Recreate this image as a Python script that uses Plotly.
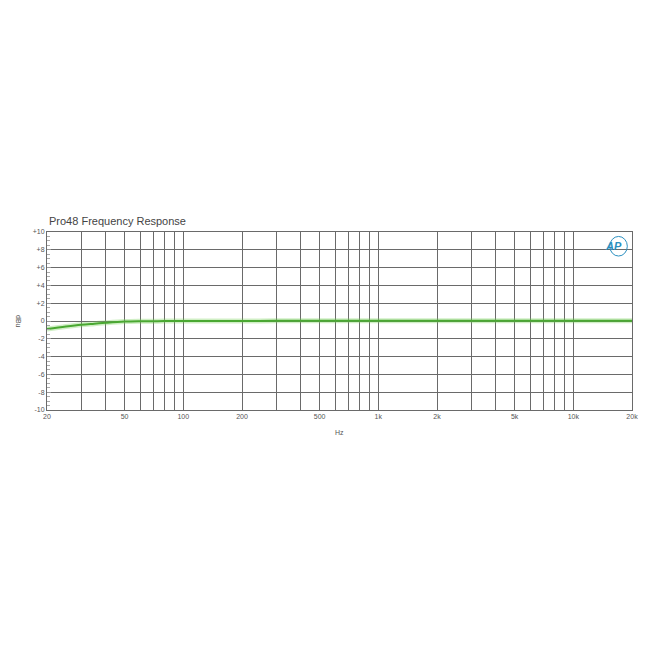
import plotly.graph_objects as go
import math

# Data
freq_hz = [20, 25, 30, 35, 40, 50, 60, 70, 80, 100, 150, 200, 300, 400, 500, 700, 1000, 2000, 5000, 10000, 15000, 20000]
level_dbu = [-0.9, -0.62, -0.42, -0.3, -0.2, -0.07, -0.03, -0.02, -0.01, 0.0, 0.0, 0.0, 0.02, 0.04, 0.04, 0.03, 0.02, 0.02, 0.02, 0.02, 0.02, 0.02]

grid_freqs = [20, 30, 40, 50, 60, 70, 80, 90, 100, 200, 300, 400, 500, 600, 700, 800, 900,
              1000, 2000, 3000, 4000, 5000, 6000, 7000, 8000, 9000, 10000, 20000]
labeled = {20: "20", 50: "50", 100: "100", 200: "200", 500: "500", 1000: "1k",
           2000: "2k", 5000: "5k", 10000: "10k", 20000: "20k"}
x_ticktext = [labeled.get(f, "") for f in grid_freqs]

y_tickvals = [10, 8, 6, 4, 2, 0, -2, -4, -6, -8, -10]
y_ticktext = ["+10", "+8", "+6", "+4", "+2", "0", "-2", "-4", "-6", "-8", "-10"]

title_text = "Pro48 Frequency Response"
x_title = "Hz"
y_title = "dBu"

fig = go.Figure()
# soft glow
fig.add_trace(go.Scatter(x=freq_hz, y=level_dbu, mode="lines",
                         line=dict(color="rgba(120,210,90,0.35)", width=5, shape="spline"),
                         hoverinfo="skip", showlegend=False))
fig.add_trace(go.Scatter(x=freq_hz, y=level_dbu, mode="lines",
                         line=dict(color="#4aa832", width=2, shape="spline"),
                         showlegend=False))

grid_col = "#6a6a6a"
fig.update_layout(
    width=634, height=634,
    paper_bgcolor="white", plot_bgcolor="white",
    margin=dict(l=39, r=10, t=224, b=232, autoexpand=False),
    font=dict(family="Liberation Sans, Arial, sans-serif", color="#555555"),
    xaxis=dict(
        type="log", range=[math.log10(20), math.log10(20000)],
        tickmode="array", tickvals=grid_freqs, ticktext=x_ticktext,
        showgrid=True, gridcolor=grid_col, gridwidth=1,
        showline=True, linecolor=grid_col, linewidth=1, mirror=True,
        ticks="", tickfont=dict(size=7, color="#555555"),
        zeroline=False, automargin=False,
    ),
    yaxis=dict(
        range=[-10, 10],
        tickmode="array", tickvals=y_tickvals, ticktext=y_ticktext,
        showgrid=True, gridcolor=grid_col, gridwidth=1,
        showline=True, linecolor=grid_col, linewidth=1, mirror=True,
        ticks="inside", ticklen=4, tickcolor="#999999",
        minor=dict(dtick=0.5, ticks="inside", ticklen=3, tickcolor="#aaaaaa", showgrid=False),
        tickfont=dict(size=7, color="#555555"),
        zeroline=False, automargin=False,
    ),
    annotations=[
        dict(text=title_text, x=0, xref="paper", xanchor="left", xshift=0,
             y=1, yref="paper", yanchor="bottom", yshift=3, showarrow=False,
             font=dict(size=11, color="#444444")),
        dict(text=x_title, x=0.5, xref="paper", xanchor="center",
             y=0, yref="paper", yanchor="top", yshift=-17, showarrow=False,
             font=dict(size=7, color="#555555")),
        dict(text=y_title, x=0, xref="paper", xanchor="center", xshift=-28,
             y=0.5, yref="paper", yanchor="middle", showarrow=False, textangle=90,
             font=dict(size=7, color="#555555")),
        dict(text="<i><b>AP</b></i>", x=1, xref="paper", xanchor="right", xshift=-8,
             y=1, yref="paper", yanchor="top", yshift=-6, showarrow=False,
             font=dict(size=11, color="#2a8fc0")),
    ],
    shapes=[
        dict(type="circle", xref="paper", yref="paper",
             x0=0.962, x1=0.992, y0=0.865, y1=0.975,
             line=dict(color="#2a8fc0", width=1)),
    ],
)

fig.write_html("out.html")
